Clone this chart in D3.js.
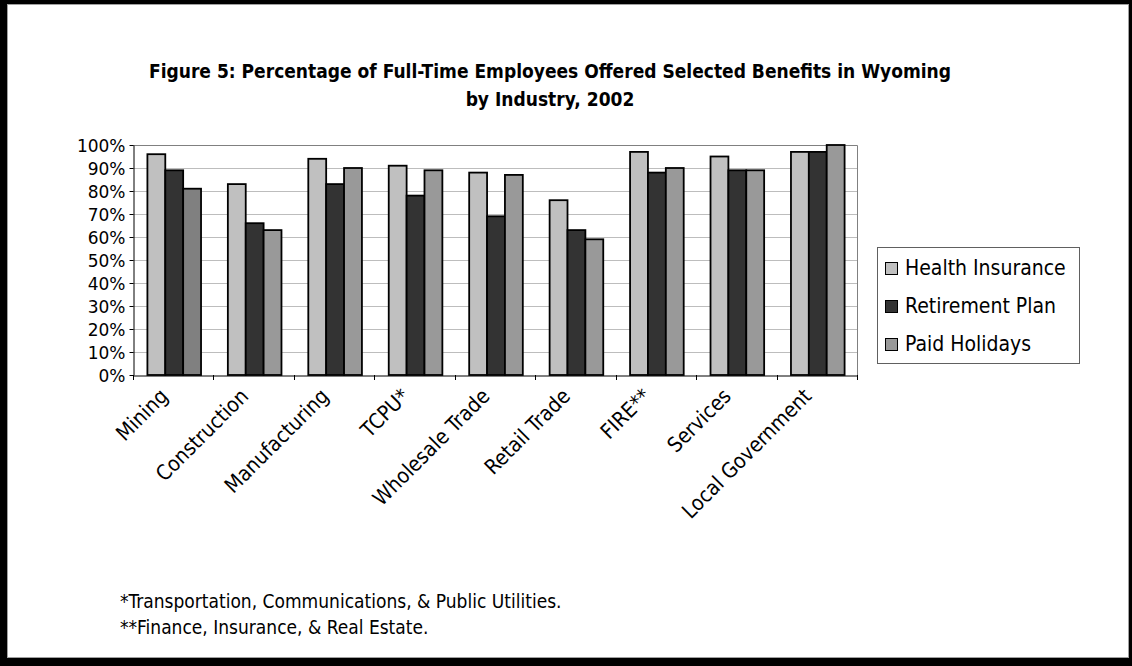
<!DOCTYPE html>
<html>
<head>
<meta charset="utf-8">
<script src="https://cdn.jsdelivr.net/npm/d3@7"></script>
<style>
  body { margin: 0; background: #000; }
  svg { display: block; }
  text { font-family: "DejaVu Sans Condensed", "DejaVu Sans", sans-serif; fill: #000; }
</style>
</head>
<body>
<div id="chart"></div>
<script>
// Data
const categories = ["Mining", "Construction", "Manufacturing", "TCPU*", "Wholesale Trade",
  "Retail Trade", "FIRE**", "Services", "Local Government"];
const seriesNames = ["Health Insurance", "Retirement Plan", "Paid Holidays"];
const healthInsurance = [96, 83, 94, 91, 88, 76, 97, 95, 97];
const retirementPlan = [89, 66, 83, 78, 69, 63, 88, 89, 97];
const paidHolidays = [81, 63, 90, 89, 87, 59, 90, 89, 100];
const yTicks = [0, 10, 20, 30, 40, 50, 60, 70, 80, 90, 100];
const titleLines = ["Figure 5: Percentage of Full-Time Employees Offered Selected Benefits in Wyoming",
  "by Industry, 2002"];
const footnotes = ["*Transportation, Communications, & Public Utilities.",
  "**Finance, Insurance, & Real Estate."];

const width = 1132;
const height = 666;
const plotLeft = 133;
const plotRight = 857;
const plotTop = 145;
const plotBottom = 375;

const colors = ["#c0c0c0", "#333333", "#999999"];
const miningPaidColor = "#808080"; // that one bar is a darker grey in the original

const values = [healthInsurance, retirementPlan, paidHolidays];
const rows = categories.map((c, i) => ({
  category: c,
  bars: seriesNames.map((s, j) => ({ series: s, value: values[j][i], idx: j, cat: c }))
}));

const svg = d3.select("#chart").append("svg")
  .attr("width", width)
  .attr("height", height);

// black outer frame, white page
svg.append("rect").attr("width", width).attr("height", height).attr("fill", "#000");
svg.append("rect")
  .attr("x", 7.5).attr("y", 4.5)
  .attr("width", 1121).attr("height", 653)
  .attr("fill", "#fff")
  .attr("stroke", "#a0a0a0");

// scales
const x0 = d3.scaleBand()
  .domain(categories)
  .range([plotLeft, plotRight]);

const bw = x0.bandwidth();
const x1 = d3.scaleBand()
  .domain(seriesNames)
  .range([bw / 6 + 1, bw * 5 / 6 + 1]);

const y = d3.scaleLinear()
  .domain([0, 100])
  .range([plotBottom, plotTop]);

// gridlines
svg.append("g")
  .selectAll("line")
  .data(yTicks.filter(d => d > 0 && d < 100))
  .join("line")
  .attr("x1", plotLeft).attr("x2", plotRight)
  .attr("y1", d => Math.round(y(d)) + 0.5)
  .attr("y2", d => Math.round(y(d)) + 0.5)
  .attr("stroke", "#bdbdbd")
  .attr("stroke-width", 1.2);

// plot frame (top + right)
svg.append("path")
  .attr("d", `M${plotLeft},${plotTop + 0.5}H${plotRight + 0.5}V${plotBottom}`)
  .attr("fill", "none")
  .attr("stroke", "#808080");

// bars
svg.append("g")
  .selectAll("g")
  .data(rows)
  .join("g")
  .attr("transform", d => `translate(${x0(d.category)},0)`)
  .selectAll("rect")
  .data(d => d.bars)
  .join("rect")
  .attr("x", d => x1(d.series))
  .attr("y", d => y(d.value))
  .attr("width", x1.bandwidth())
  .attr("height", d => y(0) - y(d.value))
  .attr("fill", d => (d.idx === 2 && d.cat === "Mining") ? miningPaidColor : colors[d.idx])
  .attr("stroke", "#000")
  .attr("stroke-width", 1.8);

// y axis
const yAxis = svg.append("g")
  .attr("transform", `translate(${plotLeft + 0.5},0)`)
  .call(d3.axisLeft(y)
    .tickValues(yTicks)
    .tickFormat(d => d + "%")
    .tickSize(4)
    .tickSizeOuter(0)
    .tickPadding(4));
yAxis.selectAll("text")
  .style("font-family", "'DejaVu Sans', sans-serif")
  .style("font-size", "17px")
  .attr("dy", "0.36em");

// x axis: ticks sit between categories
const xAxis = svg.append("g")
  .attr("transform", `translate(0,${plotBottom + 0.5})`)
  .call(d3.axisBottom(x0).tickSize(0).tickSizeOuter(0));
xAxis.select(".domain").attr("stroke", "#000");
xAxis.selectAll("text")
  .style("font-size", "21px")
  .attr("text-anchor", "end")
  .attr("y", 0)
  .attr("dy", 0)
  .attr("transform", "translate(-4,22) rotate(-45)");

svg.append("g")
  .selectAll("line")
  .data(categories.map(c => x0(c)).concat([plotRight]))
  .join("line")
  .attr("x1", d => Math.round(d) + 0.5).attr("x2", d => Math.round(d) + 0.5)
  .attr("y1", plotBottom).attr("y2", plotBottom + 5)
  .attr("stroke", "#000");

// title
svg.append("g")
  .selectAll("text")
  .data(titleLines)
  .join("text")
  .attr("x", 550)
  .attr("y", (d, i) => 78 + i * 28)
  .attr("text-anchor", "middle")
  .style("font-weight", "bold")
  .style("font-size", "19px")
  .text(d => d);

// legend
const legend = svg.append("g").attr("transform", "translate(877,247)");
legend.append("rect")
  .attr("x", 0.5).attr("y", 0.5)
  .attr("width", 202).attr("height", 116)
  .attr("fill", "#fff")
  .attr("stroke", "#606060");
const item = legend.selectAll("g.item")
  .data(seriesNames)
  .join("g")
  .attr("class", "item")
  .attr("transform", (d, i) => `translate(8,${15 + i * 38})`);
item.append("rect")
  .attr("width", 12).attr("height", 12)
  .attr("x", 0.5).attr("y", 0.5)
  .attr("fill", (d, i) => colors[i])
  .attr("stroke", "#000");
item.append("text")
  .attr("x", 20)
  .attr("y", 13)
  .style("font-size", "21px")
  .text(d => d);

// footnotes
svg.append("g")
  .selectAll("text")
  .data(footnotes)
  .join("text")
  .attr("x", 120)
  .attr("y", (d, i) => 608 + i * 26)
  .style("font-size", "19px")
  .text(d => d);
</script>
</body>
</html>
